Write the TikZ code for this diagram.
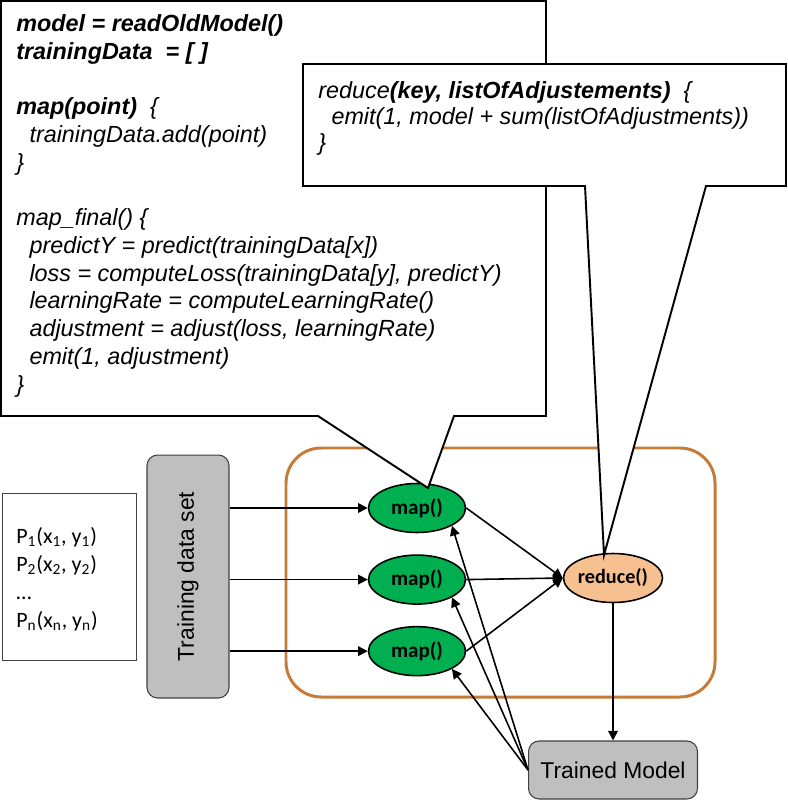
\documentclass[tikz,border=0pt]{standalone}
\usepackage{fontspec}
\setmainfont{Liberation Sans}
\newfontfamily\calfont{Carlito}
\usetikzlibrary{arrows.meta, shapes.geometric, positioning}

\definecolor{mapgreen}{RGB}{0,176,80}
\definecolor{reducepeach}{RGB}{247,192,145}
\definecolor{jobbrown}{RGB}{197,124,56}
\definecolor{boxgrey}{RGB}{191,191,191}
\definecolor{edgegrey}{RGB}{64,64,64}
\newcommand{\idx}[1]{\textsubscript{#1}}
\newcommand{\ind}{\hspace*{7.5pt}}

\begin{document}
\begin{tikzpicture}[x=0.02cm, y=-0.02cm,
	mapnode/.style={ellipse, draw=black, line width=0.9pt, fill=mapgreen, minimum width=1.94cm, minimum height=0.98cm, inner sep=0pt, font=\calfont\bfseries\fontsize{12}{14}\selectfont},
	reducenode/.style={mapnode, fill=reducepeach, font=\calfont\bfseries\fontsize{11.5}{13}\selectfont},
	greybox/.style={draw=edgegrey, fill=boxgrey, rounded corners=6pt, line width=0.6pt},
	flow/.style={-{Triangle[length=5.5pt, width=5.5pt]}, line width=0.9pt},
	codetext/.style={anchor=north west, align=left, inner sep=0pt, font=\itshape\fontsize{13.3}{15.8}\selectfont},
	callout/.style={draw=black, fill=white, line width=1.1pt, line join=miter}]

		% Page
		\fill[white] (0,0) rectangle (787,800);
		\useasboundingbox (0,0) rectangle (787,800);

		% Job frame
		\draw[jobbrown, line width=1.7pt, rounded corners=20pt] (286,448) rectangle (715,697);

		% Input points
		\node[draw=edgegrey, fill=white, line width=0.6pt, anchor=north west, minimum width=2.68cm, minimum height=3.34cm] (points) at (2,493) {};
		\node[anchor=north west, align=left, inner sep=0pt, font=\calfont\fontsize{12.5}{15.9}\selectfont] (pointlist) at (16,527)
			{P\idx{1}(x\idx{1}, y\idx{1})\\ P\idx{2}(x\idx{2}, y\idx{2})\\ \ldots\\ P\idx{n}(x\idx{n}, y\idx{n})};

		% Training data set
		\node[greybox, minimum width=1.64cm, minimum height=4.86cm] (trainset) at (188,576.5) {};
		\node[rotate=90, font=\fontsize{13}{15}\selectfont] (trainlabel) at (trainset) {Training data set};

		% Map and reduce tasks
		\node[mapnode] (map1) at (417,508) {map()};
		\node[mapnode, below=0.42cm of map1] (map2) {map()};
		\node[mapnode, below=0.42cm of map2] (map3) {map()};
		\node[reducenode] (reduce) at (613,578) {reduce()};

		% Output
		\node[greybox, minimum width=3.38cm, minimum height=1.16cm, font=\fontsize{13}{15}\selectfont] (trained) at (613,770) {Trained Model};

		% Connectors
		\foreach \m in {map1, map2, map3} {
			\draw[flow] (trainset.east |- \m) -- (\m.west);
			\draw[flow] (\m.east) -- (reduce.west);
			\draw[flow] (trained.west) -- (\m.-27);
		}
		\draw[flow] (reduce) -- (trained);

		% Callouts
		\coordinate (maptip) at (428,488);
		\coordinate (reducetip) at (604,555);
		\draw[callout] (1,1) -- (546,1) -- (546,416) -- (454,416) -- (maptip) -- (318,416) -- (1,416) -- cycle;
		\node[codetext] (mapcode) at (16,14) {%
			\textbf{model = readOldModel()}\\
			\textbf{trainingData~ = [ ]}\\
			~\\
			\textbf{map(point)}~ \{\\
			\ind trainingData.add(point)\\
			\}\\
			~\\
			map\_final() \{\\
			\ind predictY = predict(trainingData[x])\\
			\ind loss = computeLoss(trainingData[y], predictY)\\
			\ind learningRate = computeLearningRate()\\
			\ind adjustment = adjust(loss, learningRate)\\
			\ind emit(1, adjustment)\\
			\}};

		\draw[callout] (303,64) -- (786,64) -- (786,186) -- (706,186) -- (reducetip) -- (585,186) -- (303,186) -- cycle;
		\node[codetext, font=\itshape\fontsize{13.3}{14.75}\selectfont] (reducecode) at (318,81) {%
			reduce\textbf{(key, listOfAdjustements)}~ \{\\
			\ind emit(1, model + sum(listOfAdjustments))\\
			\}};
	\end{tikzpicture}
\end{document}
